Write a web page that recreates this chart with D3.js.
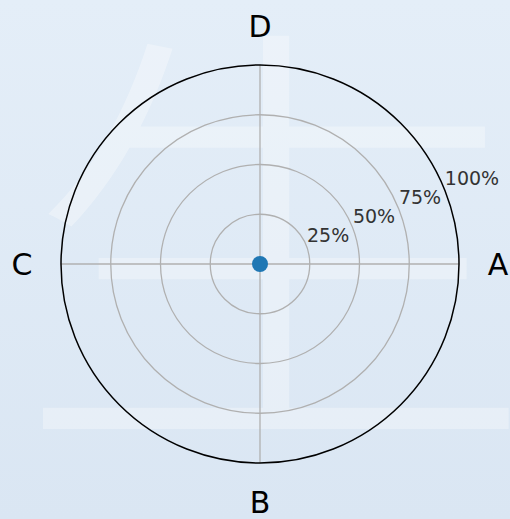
<!DOCTYPE html>
<html>
<head>
<meta charset="utf-8">
<script src="https://cdn.jsdelivr.net/npm/d3@7"></script>
<style>
  body { margin: 0; }
  svg { display: block; }
</style>
</head>
<body>
<script>

// angle labels, clockwise from the right
var categories = ["A", "B", "C", "D"];
var angles = [0, 90, 180, 270];
var rTicks = [0.25, 0.5, 0.75, 1.0];
var rTickLabels = ["25%", "50%", "75%", "100%"];
var pointTheta = [0];
var pointR = [0];

var width = 510, height = 519;
var cx = 260, cy = 264;
var outer = 199;

var svg = d3.select("body").append("svg")
	.attr("width", width).attr("height", height);

var defs = svg.append("defs");
var grad = defs.append("linearGradient").attr("id", "bg")
	.attr("x1", 0).attr("y1", 0).attr("x2", 0).attr("y2", 1);
grad.append("stop").attr("offset", "0%").attr("stop-color", "#e4eef8");
grad.append("stop").attr("offset", "100%").attr("stop-color", "#dae6f3");

svg.append("rect").attr("width", width).attr("height", height).attr("fill", "url(#bg)");

// watermark
svg.append("g")
	.attr("transform", "translate(12.5,411) scale(1.05,0.9)")
	.append("text")
	.attr("x", 0)
	.attr("y", 0)
	.attr("font-family", "Noto Sans CJK SC")
	.attr("font-weight", 200)
	.attr("font-size", 500)
	.attr("fill", "#ffffff")
	.attr("opacity", 0.33)
	.text("生");

var r = d3.scaleLinear().domain([0, 1]).range([0, outer]);
// clockwise, 0 at the right (screen coords)
var toXY = function(theta, rad) {
	var a = theta * Math.PI / 180;
	return [cx + rad * Math.cos(a), cy + rad * Math.sin(a)];
};

var g = svg.append("g");

// spokes
g.selectAll("line.spoke").data(angles)
	.enter().append("line")
	.attr("class", "spoke")
	.attr("x1", cx).attr("y1", cy)
	.attr("x2", function(d) { return toXY(d, r(1))[0]; })
	.attr("y2", function(d) { return toXY(d, r(1))[1]; })
	.attr("stroke", "#b0b0b0")
	.attr("stroke-width", 1.3);

// rings
g.selectAll("circle.ring").data(rTicks.slice(0, 3))
	.enter().append("circle")
	.attr("class", "ring")
	.attr("cx", cx).attr("cy", cy)
	.attr("r", function(d) { return r(d); })
	.attr("fill", "none")
	.attr("stroke", "#b0b0b0")
	.attr("stroke-width", 1.3);

g.append("circle")
	.attr("cx", cx).attr("cy", cy)
	.attr("r", r(1))
	.attr("fill", "none")
	.attr("stroke", "#000")
	.attr("stroke-width", 1.5);

// radial tick labels at 22.5 degrees
g.selectAll("text.rlabel").data(rTicks)
	.enter().append("text")
	.attr("class", "rlabel")
	.attr("x", function(d) { return toXY(-22.5, r(d))[0] + 1; })
	.attr("y", function(d) { return toXY(-22.5, r(d))[1] - 3; })
	.attr("font-family", "DejaVu Sans")
	.attr("font-size", 19)
	.attr("fill", "#333333")
	.text(function(d, i) { return rTickLabels[i]; });

// angle labels
g.selectAll("text.alabel").data(categories)
	.enter().append("text")
	.attr("class", "alabel")
	.attr("x", function(d, i) { return toXY(angles[i], r(1) + 39)[0]; })
	.attr("y", function(d, i) { return toXY(angles[i], r(1) + 39)[1]; })
	.attr("dy", "0.36em")
	.attr("text-anchor", "middle")
	.attr("font-family", "DejaVu Sans")
	.attr("font-size", 30)
	.attr("fill", "#000")
	.text(function(d) { return d; });

// data point
g.selectAll("circle.pt").data(pointTheta)
	.enter().append("circle")
	.attr("class", "pt")
	.attr("cx", function(d, i) { return toXY(d, r(pointR[i]))[0]; })
	.attr("cy", function(d, i) { return toXY(d, r(pointR[i]))[1]; })
	.attr("r", 8)
	.attr("fill", "#1f77b4");

</script>
</body>
</html>
